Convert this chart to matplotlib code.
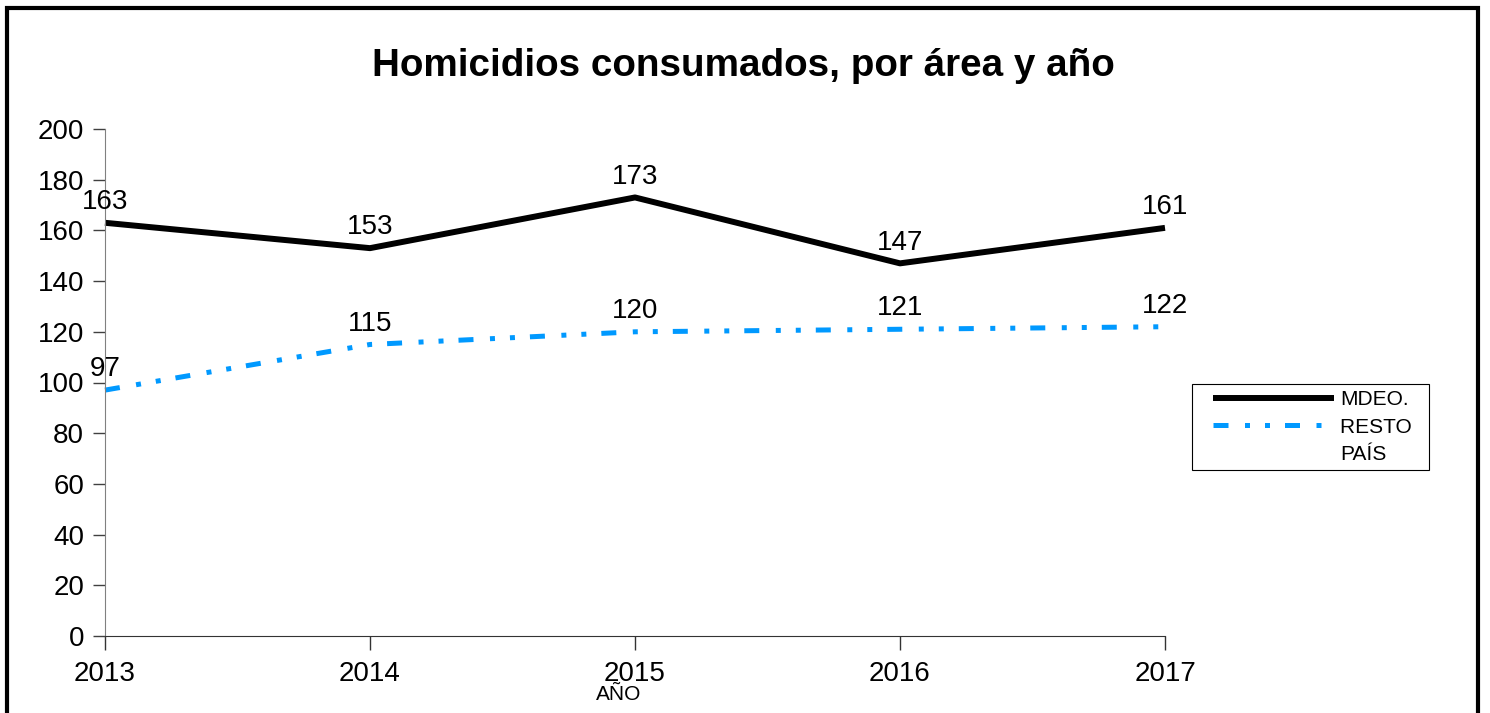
import matplotlib.pyplot as plt
from matplotlib.lines import Line2D
from matplotlib.legend_handler import HandlerLine2D
from matplotlib.patches import Rectangle

# --- data ---
years = [2013, 2014, 2015, 2016, 2017]
mdeo = [163, 153, 173, 147, 161]
resto = [97, 115, 120, 121, 122]

plt.rcParams['font.family'] = ['Liberation Sans', 'DejaVu Sans']

fig = plt.figure(figsize=(14.9, 7.13), dpi=100)
ax = fig.add_axes([105 / 1490, 77 / 713, 1060 / 1490, 507 / 713])

blue = '#0099ff'
dashdotdot = (0, (3, 3.3, 1, 3, 1, 3))

ax.plot(years, mdeo, color='black', lw=4.3, solid_capstyle='butt', clip_on=False)
ax.plot(years, resto, color=blue, lw=3.6, linestyle=dashdotdot,
        dash_capstyle='butt', clip_on=False)

# value labels
for x, y in zip(years, mdeo):
    ax.annotate(str(y), (x, y), xytext=(0, 15), textcoords='offset points',
                ha='center', va='center', fontsize=20, annotation_clip=False)
for x, y in zip(years, resto):
    ax.annotate(str(y), (x, y), xytext=(0, 15), textcoords='offset points',
                ha='center', va='center', fontsize=20, annotation_clip=False)

ax.set_xlim(2013, 2017)
ax.set_ylim(0, 200)
ax.set_xticks(years)
ax.set_xticklabels([str(y) for y in years])
ax.set_yticks(range(0, 201, 20))

for s in ['top', 'right']:
    ax.spines[s].set_visible(False)
ax.spines['left'].set_color('#808080')
ax.spines['bottom'].set_color('#333333')
ax.tick_params(axis='y', length=9, width=1, color='#404040', labelsize=20, pad=6)
ax.tick_params(axis='x', length=10, width=1, color='#333333', labelsize=20, pad=8)

# title and axis label
fig.text(0.4987, 1 - 66 / 713, 'Homicidios consumados, por área y año', ha='center',
         va='center', fontsize=27.8, fontweight='bold')
fig.text(619 / 1490, 1 - 694 / 713, 'AÑO', ha='center', va='center', fontsize=15)

# legend with a blank handle for the second line of "RESTO PAÍS"
handles = [Line2D([], [], color='black', lw=4.3, solid_capstyle='butt'),
           Line2D([], [], color=blue, lw=3.6, linestyle=dashdotdot, dash_capstyle='butt'),
           Line2D([], [], color='none')]
leg = fig.legend(handles, ['MDEO.', 'RESTO  ', 'PAÍS'], loc='upper left',
                 bbox_to_anchor=(1192 / 1490, 1 - 384 / 713), fontsize=15,
                 frameon=True, fancybox=False, edgecolor='black', framealpha=1,
                 handlelength=6.5, handletextpad=0.3, labelspacing=0.4,
                 borderpad=0.3, borderaxespad=0,
                 handler_map={Line2D: HandlerLine2D(xpad=0.72)})
leg.get_frame().set_linewidth(0.8)

# outer frame
fig.patches.append(Rectangle((7.5 / 1490, -0.05), 1470 / 1490, 1.05 - 8.5 / 713,
                             transform=fig.transFigure, fill=False,
                             edgecolor='black', lw=3))

fig.savefig('out.png', dpi=100)
